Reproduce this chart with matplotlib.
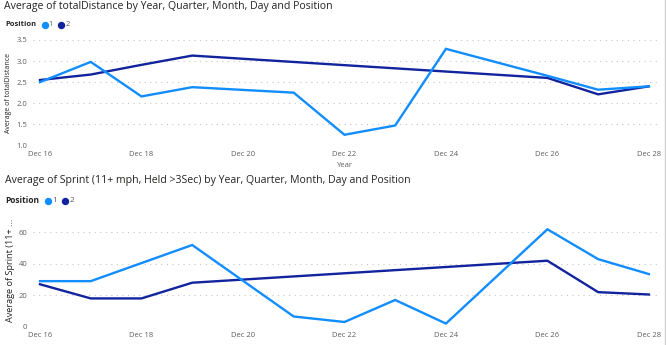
import matplotlib
matplotlib.use("Agg")
import matplotlib.pyplot as plt
from matplotlib.lines import Line2D

# ---- data (day of December) ----
dist_days_p1 = [16, 17, 18, 19, 21, 22, 23, 24, 26, 27, 28]
dist_vals_p1 = [2.50, 2.98, 2.16, 2.38, 2.25, 1.25, 1.47, 3.29, 2.65, 2.32, 2.40]
dist_days_p2 = [16, 17, 18, 19, 26, 27, 28]
dist_vals_p2 = [2.55, 2.68, 2.91, 3.13, 2.60, 2.21, 2.40]

sprint_days_p1 = [16, 17, 18, 19, 21, 22, 23, 24, 26, 27, 28]
sprint_vals_p1 = [29, 29, 40.5, 52, 6.5, 3, 17, 2, 62, 43, 33.5]
sprint_days_p2 = [16, 17, 18, 19, 26, 27, 28]
sprint_vals_p2 = [27, 18, 18, 28, 42, 22, 20.5]

tick_days = [16, 18, 20, 22, 24, 26, 28]
tick_labels = ["Dec 16", "Dec 18", "Dec 20", "Dec 22", "Dec 24", "Dec 26", "Dec 28"]

dist_yticks = [1.0, 1.5, 2.0, 2.5, 3.0, 3.5]
sprint_yticks = [0, 20, 40, 60]

C1 = "#118DFF"
C2 = "#12239E"
TXT = "#252423"
TICK = "#605E5C"
GRID = "#C8C6C4"

plt.rcParams["font.family"] = ["Open Sans", "DejaVu Sans"]

W, H = 666, 345
fig = plt.figure(figsize=(W / 100, H / 100), dpi=100)
fig.patch.set_facecolor("white")


def px(x0, y0, x1, y1):
    return [x0 / W, 1 - y1 / H, (x1 - x0) / W, (y1 - y0) / H]


def style_axes(ax, yticks, ylim, yfmt):
    ax.set_xlim(16 - 0.138, 28 + 0.16)
    ax.set_ylim(*ylim)
    for s in ax.spines.values():
        s.set_visible(False)
    ax.set_xticks(tick_days)
    ax.set_xticklabels(tick_labels)
    ax.set_yticks(yticks)
    ax.set_yticklabels([yfmt(v) for v in yticks])
    ax.tick_params(axis="both", length=0, colors=TICK, labelsize=5.5)
    ax.tick_params(axis="x", pad=4)
    ax.tick_params(axis="y", pad=4)
    for v in yticks:
        ax.axhline(v, color=GRID, lw=0.8, ls=(0, (1, 4)), zorder=0)


def legend_row(y, size, c1x, t1x, c2x, t2x):
    fy = 1 - y / H
    fig.text(5 / W, fy, "Position", fontsize=size, fontweight="bold",
             color=TXT, va="center", ha="left")
    for cx, col in ((c1x, C1), (c2x, C2)):
        fig.add_artist(Line2D([cx / W], [fy], marker="o", markersize=4.3,
                              color=col, transform=fig.transFigure, lw=0))
    fig.text(t1x / W, fy, "1", fontsize=size, color=TICK, va="center", ha="left")
    fig.text(t2x / W, fy, "2", fontsize=size, color=TICK, va="center", ha="left")


# ---- top chart: totalDistance ----
ax1 = fig.add_axes(px(33, 40, 657, 145.3))
style_axes(ax1, dist_yticks, (1.0, 3.5), lambda v: f"{v:.1f}")
ax1.plot(dist_days_p1, dist_vals_p1, color=C1, lw=1.7, solid_joinstyle="miter", clip_on=False, zorder=3)
ax1.plot(dist_days_p2, dist_vals_p2, color=C2, lw=1.7, solid_joinstyle="miter", clip_on=False, zorder=2)
ax1.set_xlabel("Year", fontsize=5.5, color=TICK, labelpad=3)
fig.text(9 / W, 1 - 93 / H, "Average of totalDistance", fontsize=5.0, color=TXT,
         rotation=90, va="center", ha="center")

fig.text(4 / W, 1 - 6 / H, "Average of totalDistance by Year, Quarter, Month, Day and Position",
         fontsize=7.6, color=TXT, va="center", ha="left")
legend_row(25, 5.4, 44.5, 48.8, 61, 65.3)

# ---- bottom chart: Sprint ----
ax2 = fig.add_axes(px(33, 226, 657, 326.7))
style_axes(ax2, sprint_yticks, (0, 64.1), lambda v: f"{v:d}")
ax2.plot(sprint_days_p1, sprint_vals_p1, color=C1, lw=1.7, solid_joinstyle="miter", clip_on=False, zorder=3)
ax2.plot(sprint_days_p2, sprint_vals_p2, color=C2, lw=1.7, solid_joinstyle="miter", clip_on=False, zorder=2)
fig.text(10.7 / W, 1 - 270 / H, "Average of Sprint (11+ \u2026", fontsize=6.6, color=TXT,
         rotation=90, va="center", ha="center")

fig.text(5 / W, 1 - 180 / H,
         "Average of Sprint (11+ mph, Held >3Sec) by Year, Quarter, Month, Day and Position",
         fontsize=7.6, color=TXT, va="center", ha="left")
legend_row(200.7, 6.0, 47.8, 52.2, 65.2, 69.6)

# right-hand border
fig.add_artist(Line2D([664.5 / W, 664.5 / W], [0, 1], color="#D0D0D0", lw=1,
                      transform=fig.transFigure))

fig.savefig("out.png", dpi=100, facecolor="white")
